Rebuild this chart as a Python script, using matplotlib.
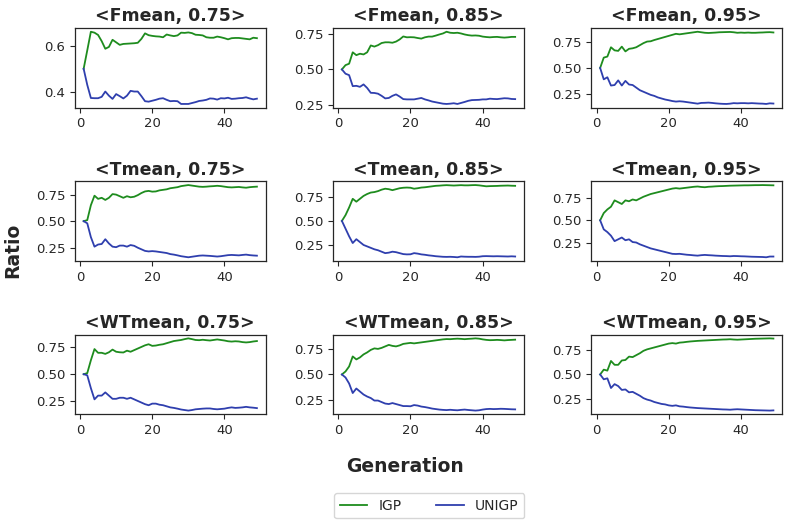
import matplotlib
matplotlib.use("Agg")
import matplotlib.pyplot as plt
import numpy as np

gens = list(range(1, 50))

titles = ["<Fmean, 0.75>", "<Fmean, 0.85>", "<Fmean, 0.95>",
          "<Tmean, 0.75>", "<Tmean, 0.85>", "<Tmean, 0.95>",
          "<WTmean, 0.75>", "<WTmean, 0.85>", "<WTmean, 0.95>"]

igp_f75 = [0.50, 0.58, 0.661, 0.657, 0.647, 0.62, 0.587, 0.595, 0.626, 0.615,
           0.604, 0.608, 0.609, 0.610, 0.611, 0.613, 0.63, 0.654, 0.646, 0.643,
           0.641, 0.640, 0.637, 0.649, 0.645, 0.642, 0.645, 0.657, 0.656, 0.658,
           0.655, 0.648, 0.647, 0.645, 0.637, 0.635, 0.635, 0.640, 0.637, 0.633,
           0.628, 0.633, 0.634, 0.634, 0.632, 0.630, 0.628, 0.635, 0.633]
uni_f75 = [0.50, 0.43, 0.373, 0.372, 0.372, 0.378, 0.401, 0.383, 0.369, 0.39,
           0.381, 0.371, 0.383, 0.404, 0.401, 0.401, 0.381, 0.359, 0.357, 0.361,
           0.365, 0.37, 0.372, 0.365, 0.359, 0.360, 0.359, 0.347, 0.347, 0.347,
           0.351, 0.355, 0.36, 0.362, 0.365, 0.371, 0.370, 0.366, 0.372, 0.371,
           0.374, 0.369, 0.370, 0.372, 0.373, 0.376, 0.371, 0.367, 0.370]

igp_f85 = [0.50, 0.53, 0.54, 0.62, 0.60, 0.61, 0.605, 0.62, 0.668, 0.66,
           0.67, 0.685, 0.69, 0.69, 0.687, 0.695, 0.71, 0.731, 0.725, 0.726,
           0.725, 0.72, 0.716, 0.725, 0.73, 0.73, 0.737, 0.745, 0.752, 0.764,
           0.757, 0.755, 0.757, 0.752, 0.745, 0.74, 0.737, 0.738, 0.736, 0.73,
           0.727, 0.725, 0.727, 0.728, 0.725, 0.723, 0.725, 0.728, 0.728]
uni_f85 = [0.50, 0.47, 0.46, 0.383, 0.385, 0.378, 0.395, 0.37, 0.336, 0.335,
           0.33, 0.315, 0.297, 0.30, 0.315, 0.325, 0.31, 0.292, 0.29, 0.29,
           0.29, 0.295, 0.30, 0.29, 0.283, 0.275, 0.27, 0.265, 0.26, 0.258,
           0.26, 0.263, 0.258, 0.265, 0.272, 0.28, 0.285, 0.286, 0.287, 0.29,
           0.29, 0.295, 0.293, 0.292, 0.295, 0.298, 0.297, 0.293, 0.292]

igp_f95 = [0.50, 0.60, 0.61, 0.70, 0.67, 0.665, 0.706, 0.66, 0.685, 0.69,
           0.70, 0.72, 0.74, 0.755, 0.758, 0.77, 0.78, 0.79, 0.80, 0.81,
           0.82, 0.83, 0.825, 0.83, 0.835, 0.84, 0.845, 0.85, 0.845, 0.84,
           0.838, 0.84, 0.842, 0.845, 0.846, 0.847, 0.848, 0.845, 0.84, 0.842,
           0.84, 0.842, 0.84, 0.84, 0.842, 0.843, 0.845, 0.846, 0.843]
uni_f95 = [0.50, 0.39, 0.41, 0.33, 0.335, 0.38, 0.33, 0.375, 0.34, 0.335,
           0.31, 0.285, 0.27, 0.255, 0.24, 0.23, 0.215, 0.205, 0.195, 0.188,
           0.18, 0.175, 0.178, 0.175, 0.17, 0.165, 0.16, 0.155, 0.162, 0.163,
           0.165, 0.162, 0.158, 0.155, 0.153, 0.152, 0.155, 0.16, 0.158, 0.16,
           0.16, 0.158, 0.16, 0.158, 0.156, 0.155, 0.152, 0.158, 0.156]

igp_t75 = [0.50, 0.51, 0.65, 0.74, 0.71, 0.72, 0.70, 0.72, 0.755, 0.75,
           0.735, 0.72, 0.735, 0.725, 0.73, 0.745, 0.765, 0.78, 0.785, 0.778,
           0.78, 0.79, 0.795, 0.80, 0.81, 0.815, 0.82, 0.83, 0.835, 0.84,
           0.835, 0.83, 0.825, 0.823, 0.825, 0.828, 0.83, 0.833, 0.83, 0.825,
           0.82, 0.818, 0.82, 0.822, 0.818, 0.815, 0.82, 0.823, 0.825]
uni_t75 = [0.50, 0.48, 0.35, 0.26, 0.28, 0.285, 0.33, 0.29, 0.26, 0.255,
           0.27, 0.27, 0.26, 0.275, 0.268, 0.25, 0.235, 0.22, 0.215, 0.218,
           0.215, 0.21, 0.205, 0.20, 0.19, 0.185, 0.178, 0.17, 0.165, 0.16,
           0.165, 0.17, 0.175, 0.177, 0.175, 0.173, 0.17, 0.167, 0.17, 0.175,
           0.18, 0.182, 0.18, 0.178, 0.182, 0.185, 0.18, 0.177, 0.175]

igp_t85 = [0.50, 0.56, 0.64, 0.73, 0.70, 0.73, 0.76, 0.78, 0.795, 0.80,
           0.81, 0.825, 0.835, 0.83, 0.82, 0.83, 0.84, 0.845, 0.847, 0.845,
           0.835, 0.84, 0.847, 0.85, 0.855, 0.86, 0.865, 0.867, 0.87, 0.872,
           0.87, 0.868, 0.87, 0.872, 0.87, 0.87, 0.872, 0.873, 0.87, 0.865,
           0.86, 0.862, 0.863, 0.864, 0.866, 0.867, 0.868, 0.866, 0.865]
uni_t85 = [0.50, 0.42, 0.34, 0.27, 0.31, 0.28, 0.25, 0.235, 0.22, 0.205,
           0.195, 0.18, 0.165, 0.17, 0.18, 0.175, 0.165, 0.155, 0.152, 0.153,
           0.165, 0.16, 0.152, 0.148, 0.142, 0.138, 0.133, 0.13, 0.127, 0.126,
           0.127, 0.125, 0.122, 0.13, 0.128, 0.127, 0.127, 0.126, 0.128, 0.133,
           0.134, 0.133, 0.132, 0.133, 0.132, 0.131, 0.13, 0.132, 0.13]

igp_t95 = [0.50, 0.58, 0.62, 0.65, 0.72, 0.70, 0.68, 0.72, 0.71, 0.73,
           0.72, 0.74, 0.76, 0.775, 0.79, 0.80, 0.81, 0.82, 0.83, 0.84,
           0.85, 0.855, 0.85, 0.855, 0.86, 0.865, 0.87, 0.873, 0.868, 0.865,
           0.87, 0.872, 0.875, 0.877, 0.878, 0.88, 0.882, 0.883, 0.884, 0.885,
           0.886, 0.886, 0.887, 0.888, 0.888, 0.889, 0.888, 0.887, 0.886]
uni_t95 = [0.50, 0.40, 0.37, 0.33, 0.27, 0.29, 0.31, 0.28, 0.29, 0.26,
           0.255, 0.235, 0.22, 0.205, 0.19, 0.18, 0.17, 0.16, 0.15, 0.14,
           0.13, 0.128, 0.13, 0.125, 0.12, 0.117, 0.113, 0.11, 0.115, 0.118,
           0.115, 0.113, 0.11, 0.108, 0.106, 0.105, 0.103, 0.106, 0.105, 0.103,
           0.102, 0.10, 0.098, 0.097, 0.096, 0.095, 0.092, 0.10, 0.10]

igp_w75 = [0.50, 0.51, 0.63, 0.735, 0.70, 0.70, 0.69, 0.705, 0.73, 0.71,
           0.705, 0.703, 0.72, 0.71, 0.725, 0.74, 0.755, 0.77, 0.78, 0.765,
           0.768, 0.775, 0.78, 0.79, 0.80, 0.81, 0.815, 0.82, 0.828, 0.835,
           0.828, 0.82, 0.818, 0.822, 0.818, 0.815, 0.82, 0.825, 0.82, 0.815,
           0.808, 0.805, 0.808, 0.806, 0.80, 0.797, 0.80, 0.806, 0.81]
uni_w75 = [0.50, 0.49, 0.37, 0.265, 0.30, 0.30, 0.33, 0.30, 0.27, 0.27,
           0.28, 0.28, 0.27, 0.28, 0.265, 0.25, 0.235, 0.22, 0.21, 0.225,
           0.225, 0.215, 0.21, 0.20, 0.19, 0.185, 0.178, 0.17, 0.165, 0.16,
           0.165, 0.172, 0.175, 0.178, 0.18, 0.18, 0.175, 0.172, 0.175, 0.178,
           0.185, 0.19, 0.185, 0.187, 0.19, 0.195, 0.19, 0.187, 0.183]

igp_w85 = [0.50, 0.53, 0.58, 0.68, 0.65, 0.67, 0.70, 0.72, 0.745, 0.76,
           0.755, 0.765, 0.78, 0.795, 0.785, 0.78, 0.79, 0.805, 0.81, 0.815,
           0.81, 0.815, 0.82, 0.825, 0.83, 0.835, 0.84, 0.845, 0.85, 0.853,
           0.852, 0.855, 0.857, 0.855, 0.852, 0.855, 0.857, 0.86, 0.857, 0.85,
           0.845, 0.842, 0.843, 0.845, 0.843, 0.84, 0.843, 0.845, 0.847]
uni_w85 = [0.50, 0.47, 0.41, 0.315, 0.36, 0.33, 0.30, 0.28, 0.265, 0.24,
           0.24, 0.225, 0.21, 0.205, 0.215, 0.205, 0.195, 0.185, 0.185, 0.183,
           0.195, 0.19, 0.18, 0.175, 0.168, 0.16, 0.155, 0.15, 0.147, 0.145,
           0.148, 0.145, 0.143, 0.147, 0.15, 0.146, 0.143, 0.14, 0.143, 0.15,
           0.155, 0.157, 0.155, 0.156, 0.158, 0.157, 0.155, 0.153, 0.152]

igp_w95 = [0.50, 0.55, 0.54, 0.64, 0.60, 0.60, 0.645, 0.65, 0.685, 0.68,
           0.70, 0.72, 0.745, 0.76, 0.77, 0.78, 0.79, 0.80, 0.81, 0.82,
           0.825, 0.82, 0.83, 0.833, 0.838, 0.842, 0.845, 0.848, 0.85, 0.852,
           0.854, 0.856, 0.858, 0.86, 0.862, 0.863, 0.865, 0.862, 0.86, 0.862,
           0.864, 0.866, 0.868, 0.87, 0.871, 0.872, 0.873, 0.874, 0.872]
uni_w95 = [0.50, 0.45, 0.46, 0.36, 0.40, 0.38, 0.34, 0.345, 0.315, 0.32,
           0.30, 0.28, 0.255, 0.24, 0.23, 0.215, 0.205, 0.195, 0.19, 0.18,
           0.175, 0.18, 0.17, 0.167, 0.162, 0.158, 0.155, 0.152, 0.15, 0.148,
           0.146, 0.144, 0.142, 0.14, 0.138, 0.137, 0.135, 0.138, 0.14, 0.138,
           0.136, 0.134, 0.132, 0.13, 0.129, 0.128, 0.127, 0.126, 0.128]

igp_all = [igp_f75, igp_f85, igp_f95, igp_t75, igp_t85, igp_t95, igp_w75, igp_w85, igp_w95]
uni_all = [uni_f75, uni_f85, uni_f95, uni_t75, uni_t85, uni_t95, uni_w75, uni_w85, uni_w95]

green = "#1e8c1e"
blue = "#2f3fae"

plt.rcParams['font.family'] = 'DejaVu Sans'
plt.rcParams['xtick.labelsize'] = 9.5
plt.rcParams['ytick.labelsize'] = 9.5
plt.rcParams['text.color'] = '#262626'
plt.rcParams['xtick.color'] = '#262626'
plt.rcParams['ytick.color'] = '#262626'
plt.rcParams['axes.edgecolor'] = '#262626'

fig, axes = plt.subplots(3, 3, figsize=(7.86, 5.21), dpi=100)
fig.subplots_adjust(left=0.0954, right=0.995, top=0.946, bottom=0.205,
                    wspace=0.355, hspace=0.93)

for i, ax in enumerate(axes.flat):
    l1, = ax.plot(gens, igp_all[i], color=green, lw=1.3, label="IGP")
    l2, = ax.plot(gens, uni_all[i], color=blue, lw=1.3, label="UNIGP")
    ax.set_title(titles[i], fontsize=12.5, fontweight='bold', pad=5)
    ax.set_xticks([0, 20, 40])
    if i > 0:
        ax.set_yticks([0.25, 0.50, 0.75])
        ax.set_yticklabels(["0.25", "0.50", "0.75"])
    else:
        ax.set_yticks([0.4, 0.6])
    for s in ax.spines.values():
        s.set_linewidth(0.9)

fig.text(0.016, 0.52, "Ratio", rotation=90, ha='center', va='center',
         fontsize=13.5, fontweight='bold')
fig.text(0.515, 0.105, "Generation", ha='center', va='center',
         fontsize=13.5, fontweight='bold')
fig.legend([l1, l2], ["IGP", "UNIGP"], loc='center', ncol=2,
           bbox_to_anchor=(0.546, 0.029), fontsize=10, columnspacing=2.5,
           frameon=True, edgecolor='#cccccc')

fig.savefig("out.png", dpi=100)
